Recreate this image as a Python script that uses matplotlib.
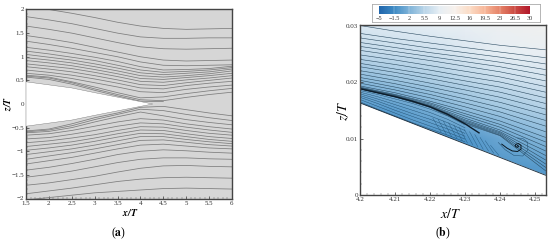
import numpy as np
import matplotlib
matplotlib.use("Agg")
import matplotlib.pyplot as plt
from matplotlib.colors import LinearSegmentedColormap, Normalize
from matplotlib.cm import ScalarMappable
from matplotlib.patches import Polygon
from matplotlib.ticker import AutoMinorLocator

plt.rcParams['font.family'] = ['Liberation Serif', 'DejaVu Serif']
plt.rcParams['mathtext.fontset'] = 'stix'

# panel (a)
xa = [1.5, 2.0, 2.5, 3.0, 3.5, 4.0, 4.5, 5.0, 5.5, 6.0]
upper_lines = [
    [2.14, 2.0, 1.92, 1.83, 1.73, 1.65, 1.6, 1.58, 1.59, 1.6],
    [1.85, 1.78, 1.7, 1.6, 1.5, 1.42, 1.39, 1.39, 1.4, 1.4],
    [1.65, 1.58, 1.5, 1.4, 1.3, 1.21, 1.17, 1.16, 1.17, 1.18],
    [1.45, 1.38, 1.3, 1.2, 1.1, 1.0, 0.93, 0.91, 0.92, 0.93],
    [1.33, 1.26, 1.18, 1.09, 1.0, 0.89, 0.82, 0.81, 0.82, 0.83],
    [1.2, 1.14, 1.07, 0.99, 0.9, 0.79, 0.72, 0.73, 0.75, 0.8],
    [1.12, 1.06, 0.99, 0.92, 0.82, 0.72, 0.67, 0.69, 0.72, 0.77],
    [1.05, 0.99, 0.93, 0.85, 0.76, 0.66, 0.62, 0.65, 0.68, 0.74],
    [0.98, 0.93, 0.87, 0.79, 0.7, 0.6, 0.57, 0.6, 0.64, 0.7],
    [0.92, 0.87, 0.81, 0.73, 0.64, 0.54, 0.52, 0.56, 0.6, 0.65],
    [0.85, 0.8, 0.75, 0.67, 0.58, 0.48, 0.46, 0.51, 0.55, 0.6],
    [0.79, 0.74, 0.68, 0.6, 0.51, 0.41, 0.39, 0.45, 0.5, 0.55],
    [0.72, 0.67, 0.61, 0.53, 0.44, 0.34, 0.32, 0.39, 0.44, 0.48],
    [0.65, 0.61, 0.54, 0.45, 0.36, 0.26, 0.24, 0.31, 0.36, 0.4],
    [0.61, 0.57, 0.47, 0.36, 0.24, 0.13, 0.15, 0.22, 0.28, 0.33],
    [0.59, 0.55, 0.45, 0.32, 0.2, 0.09, 0.07, 0.14, 0.2, 0.25],
    [0.57, 0.52, 0.42, 0.29, 0.17, 0.06, 0.05, None, None, None],
]
lower_lines = [
    [-2.03, -1.98, -1.93, -1.88, -1.85, -1.82, -1.79, -1.78, -1.79, -1.8],
    [-1.9, -1.84, -1.78, -1.71, -1.64, -1.59, -1.56, -1.55, -1.56, -1.57],
    [-1.72, -1.67, -1.6, -1.53, -1.44, -1.36, -1.31, -1.3, -1.32, -1.33],
    [-1.55, -1.49, -1.42, -1.33, -1.24, -1.17, -1.14, -1.14, -1.16, -1.17],
    [-1.4, -1.34, -1.26, -1.17, -1.07, -1.0, -0.97, -0.99, -1.02, -1.04],
    [-1.27, -1.2, -1.13, -1.04, -0.95, -0.87, -0.85, -0.89, -0.93, -0.95],
    [-1.17, -1.1, -1.03, -0.95, -0.86, -0.77, -0.76, -0.81, -0.86, -0.89],
    [-1.07, -1.01, -0.95, -0.87, -0.78, -0.69, -0.69, -0.75, -0.8, -0.84],
    [-0.98, -0.93, -0.87, -0.79, -0.7, -0.62, -0.63, -0.69, -0.75, -0.79],
    [-0.9, -0.85, -0.8, -0.72, -0.63, -0.55, -0.56, -0.63, -0.69, -0.73],
    [-0.82, -0.78, -0.72, -0.65, -0.56, -0.48, -0.49, -0.56, -0.62, -0.66],
    [-0.74, -0.71, -0.64, -0.56, -0.47, -0.4, -0.42, -0.49, -0.55, -0.6],
    [-0.66, -0.63, -0.56, -0.47, -0.38, -0.31, -0.34, -0.42, -0.48, -0.53],
    [-0.61, -0.58, -0.5, -0.38, -0.27, -0.17, -0.25, -0.33, -0.39, -0.44],
    [-0.59, -0.55, -0.46, -0.33, -0.22, -0.11, -0.14, -0.22, -0.29, -0.35],
    [-0.57, -0.53, -0.42, -0.29, -0.19, -0.07, -0.05, -0.12, -0.19, -0.25],
]
wedge_x = [1.5, 2.5, 3.0, 3.5, 4.27, 3.5, 3.0, 2.5, 1.5]
wedge_z = [0.47, 0.34, 0.24, 0.145, 0.0, -0.145, -0.24, -0.34, -0.47]

# panel (b)
xb = [4.2, 4.21, 4.22, 4.23, 4.24, 4.253]
wall_x = [4.2, 4.253]
wall_z = [0.0163, 0.0035]
outer_lines = [
    [30.0, 29.0, 28.1, 27.3, 26.5, 25.7],
    [28.6, 27.7, 26.9, 26.1, 25.3, 24.3],
    [27.8, 26.9, 26.0, 25.2, 24.4, 23.2],
    [27.0, 26.1, 25.2, 24.4, 23.5, 22.2],
    [26.3, 25.4, 24.5, 23.6, 22.7, 21.2],
    [25.6, 24.7, 23.8, 22.8, 21.8, 20.2],
    [24.8, 23.9, 22.9, 21.9, 20.9, 19.2],
    [24.0, 23.1, 22.1, 21.0, 20.0, 18.2],
    [23.3, 22.3, 21.3, 20.2, 19.1, 17.2],
    [22.7, 21.7, 20.6, 19.4, 18.2, 16.2],
    [22.0, 21.0, 19.8, 18.6, 17.3, 15.2],
    [21.4, 20.3, 19.1, 17.8, 16.4, 14.2],
    [20.8, 19.7, 18.4, 17.0, 15.5, 13.2],
    [20.3, 19.1, 17.8, 16.3, 14.7, 12.2],
    [19.8, 18.6, 17.2, 15.6, 13.9, 11.2],
    [19.3, 18.1, 16.6, 14.9, 13.1, 10.2],
    [19.1, 17.8, 16.3, 14.4, 12.5, 9.4],
    [19.0, 17.7, 16.1, 14.0, 12.0, 8.6],
    [18.95, 17.6, 15.9, 13.6, 11.5, 7.8],
    [18.9, 17.55, 15.8, 13.3, 11.2, 7.0],
    [18.88, 17.5, 15.7, 13.1, 11.0, 6.2],
    [18.85, 17.45, 15.65, 12.9, 10.8, 5.5],
    [18.8, 17.4, 15.6, 12.8, 10.6, 4.9],
    [18.78, 17.35, 15.5, 12.6, 10.5, 4.3],
]
sep_x = [4.2, 4.205, 4.21, 4.215, 4.22, 4.225, 4.23, 4.234]
sep_z = [18.8, 18.1, 17.4, 16.6, 15.6, 14.3, 12.6, 11.0]
near_x = [4.2, 4.205, 4.21, 4.215, 4.22, 4.225, 4.23]
near_lines = [
    [18.5, 17.8, 17.0, 16.2, 15.2, 14.0, 12.4],
    [18.2, 17.4, 16.5, 15.6, 14.6, 13.4, 11.9],
    [17.9, 17.0, 16.0, 15.0, 14.0, 12.8, 11.4],
    [17.6, 16.6, 15.5, 14.4, 13.4, 12.2, 10.9],
    [17.3, 16.2, 15.0, 13.9, 12.8, 11.7, 10.4],
    [16.9, 15.7, 14.5, 13.3, 12.2, 11.1, 9.9],
    [16.5, 15.2, 14.0, 12.8, 11.7, 10.6, 9.4],
]
streak_x = [4.222, 4.2235, 4.225, 4.2265, 4.228, 4.2295, 4.231, 4.2325, 4.234, 4.2355, 4.237, 4.2385]
streak_lo = [11.1, 10.7, 10.3, 10.0, 9.6, 9.2, 8.9, 8.5, 8.1, 7.8, 7.4, 7.0]
streak_hi = [13.6, 13.4, 13.1, 12.8, 12.4, 12.0, 11.6, 11.2, 10.7, 10.2, 9.6, 8.8]
vortex_x = [4.2450, 4.2453, 4.2451, 4.2446, 4.2443, 4.2446, 4.2453, 4.2460, 4.2460, 4.2450, 4.2435, 4.2420, 4.2405]
vortex_z = [8.75, 8.65, 8.45, 8.5, 8.75, 9.0, 9.1, 8.8, 8.1, 7.7, 7.8, 8.3, 9.0]
loop_x = [4.2395, 4.2415, 4.244, 4.2465, 4.248, 4.2478, 4.2465, 4.245]
loop_z = [9.3, 8.0, 7.0, 6.9, 8.0, 9.4, 10.0, 10.1]

field_x = [4.2, 4.21, 4.22, 4.23, 4.24, 4.253]
field_z = [0.0, 5.0, 10.0, 15.0, 20.0, 25.0, 30.0]
field_u = [
    [-1, -1, -1, -1, -1, -0.5],
    [-1, -1, -1, -1, -0.5, 0],
    [-1, -1, -1, -0.5, 1, 2.5],
    [-0.5, 0, 1.5, 3, 4, 5],
    [2.5, 3.5, 4.5, 5.5, 6.5, 7.5],
    [6, 6.5, 7, 8, 9, 9.5],
    [8, 8.5, 9, 9.5, 10.5, 11],
]
cbar_ticks = [-5, -1.5, 2, 5.5, 9, 12.5, 16, 19.5, 23, 26.5, 30]
cbar_labels = ['\u22125', '\u22121.5', '2', '5.5', '9', '12.5', '16', '19.5', '23', '26.5', '30']
cbar_colors = ['#2166ac', '#3f8bc4', '#7fb3d8', '#b9d5e8', '#e6eef4', '#f7f1ec',
               '#fbdcc6', '#f7b799', '#e58368', '#cc4c43', '#b2182b']
cmap = LinearSegmentedColormap.from_list('rb', cbar_colors)
norm = Normalize(-5, 30)

W, H = 550, 243
fig = plt.figure(figsize=(5.5, 2.43), dpi=100)


def axes_px(x0, x1, y0, y1):
    return fig.add_axes([x0 / W, 1 - y1 / H, (x1 - x0) / W, (y1 - y0) / H])


def style(ax, size):
    for s in ax.spines.values():
        s.set_linewidth(1.0)
        s.set_color('#444444')
    ax.tick_params(which='major', direction='in', length=2.5, width=0.5, labelsize=size, pad=1.5,
                   color='#333333', labelcolor='#333333')
    ax.tick_params(which='minor', direction='in', length=1.2, width=0.3, color='#555555')
    ax.xaxis.set_minor_locator(AutoMinorLocator(5))
    ax.yaxis.set_minor_locator(AutoMinorLocator(5))


ax1 = axes_px(26, 232, 9.5, 198.5)
ax1.set_facecolor('#d6d6d6')
for line in upper_lines + lower_lines:
    ax1.plot(xa, np.array(line, dtype=float), color='#7c7c7c', lw=0.55)
ax1.add_patch(Polygon(np.column_stack([wedge_x, wedge_z]), fc='white', ec='#777777', lw=0.3, zorder=3))
ax1.set_xlim(1.5, 6)
ax1.set_ylim(-2, 2)
ax1.set_xticks([1.5, 2, 2.5, 3, 3.5, 4, 4.5, 5, 5.5, 6])
ax1.set_xticklabels(['1.5', '2', '2.5', '3', '3.5', '4', '4.5', '5', '5.5', '6'])
ax1.set_yticks([-2, -1.5, -1, -0.5, 0, 0.5, 1, 1.5, 2])
ax1.set_yticklabels(['\u22122', '\u22121.5', '\u22121', '\u22120.5', '0', '0.5', '1', '1.5', '2'])
style(ax1, 5)

ax2 = axes_px(360, 545.5, 25.5, 195)
mesh = ax2.pcolormesh(field_x, np.array(field_z) * 1e-3, field_u, cmap=cmap, norm=norm, shading='gouraud')
clip = Polygon([[wall_x[0], wall_z[0]], [wall_x[1], wall_z[1]], [wall_x[1], 0.03], [wall_x[0], 0.03]],
               transform=ax2.transData, fc='none', ec='none')
ax2.add_patch(clip)
mesh.set_clip_path(clip)
for line in outer_lines:
    l, = ax2.plot(xb, np.array(line) * 1e-3, color='#2a4a60', lw=0.4)
    l.set_clip_path(clip)
for line in near_lines:
    l, = ax2.plot(near_x, np.array(line) * 1e-3, color='#1d4a6b', lw=0.3)
    l.set_clip_path(clip)
for x0, lo, hi in zip(streak_x, streak_lo, streak_hi):
    l, = ax2.plot([x0 + 0.0012, x0 - 0.0012], [lo * 1e-3, hi * 1e-3], color='#24597f', lw=0.3)
    l.set_clip_path(clip)
ax2.plot(sep_x, np.array(sep_z) * 1e-3, color='#0c1c2a', lw=1.0)
ax2.plot(loop_x, np.array(loop_z) * 1e-3, color='#1d4a6b', lw=0.35)
ax2.plot(vortex_x, np.array(vortex_z) * 1e-3, color='#0a1620', lw=0.7)
ax2.plot(wall_x, wall_z, color='#1a2a38', lw=0.6)
ax2.set_xlim(4.2, 4.253)
ax2.set_ylim(0, 0.03)
ax2.set_xticks([4.2, 4.21, 4.22, 4.23, 4.24, 4.25])
ax2.set_xticklabels(['4.2', '4.21', '4.22', '4.23', '4.24', '4.25'])
ax2.set_yticks([0, 0.01, 0.02, 0.03])
ax2.set_yticklabels(['0', '0.01', '0.02', '0.03'])
style(ax2, 5)

# colorbar with its frame
frame = axes_px(371.5, 539.5, 4, 22.5)
frame.set_xticks([])
frame.set_yticks([])
for s in frame.spines.values():
    s.set_color('#aaaaaa')
    s.set_linewidth(0.6)
cax = axes_px(379, 530, 5.7, 14)
cb = fig.colorbar(ScalarMappable(norm=norm, cmap=cmap), cax=cax, orientation='horizontal', ticks=cbar_ticks)
cb.set_ticklabels(cbar_labels)
cb.ax.tick_params(labelsize=4.5, length=0, pad=1.5, labelcolor='#333333')
cb.outline.set_visible(False)
for t in cbar_ticks[1:-1]:
    cb.ax.axvline(t, color='white', lw=0.3, alpha=0.6)


def label(px, py, s, **kw):
    fig.text(px / W, 1 - py / H, s, ha='center', va='center', **kw)


label(130, 212, '$\\mathbfit{x/T}$', fontsize=7)
label(8, 103, '$\\mathbfit{z/T}$', fontsize=7, rotation=90)
label(119, 233, '($\\mathbf{a}$)', fontsize=8.5)
label(451, 214, '$x/T$', fontsize=10)
label(343, 111, '$z/T$', fontsize=10, rotation=90)
label(443, 233, '($\\mathbf{b}$)', fontsize=8.5)

fig.savefig('out.png', dpi=100)
